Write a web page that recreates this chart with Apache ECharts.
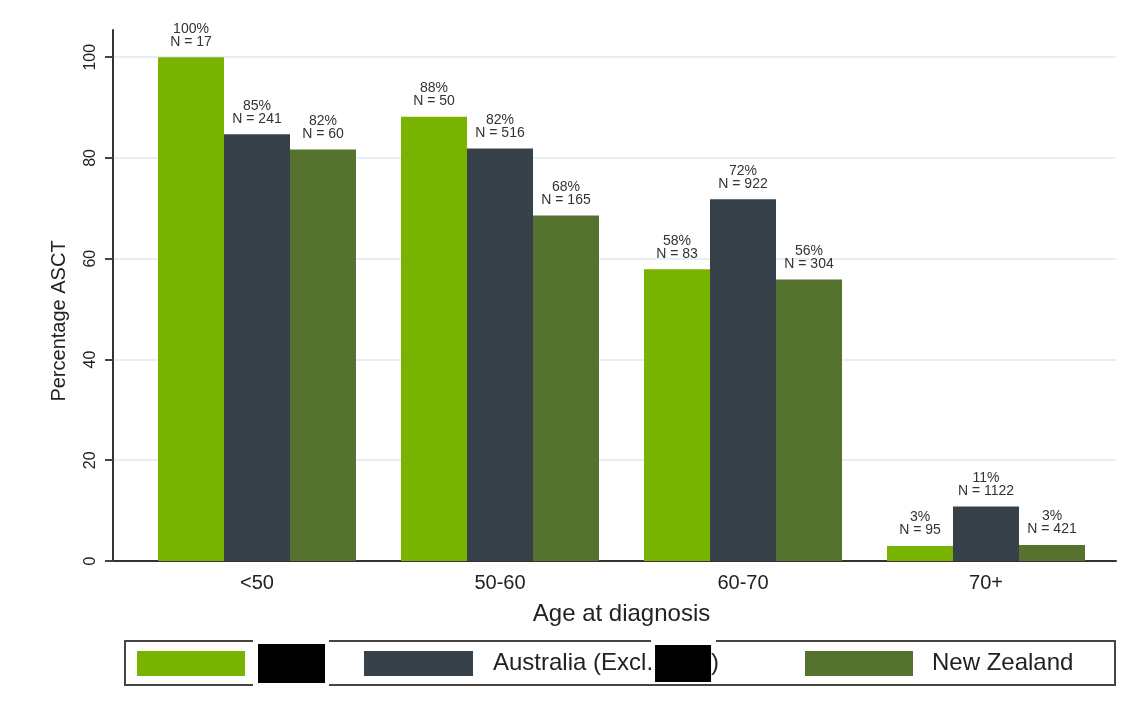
<!DOCTYPE html>
<html>
<head>
<meta charset="utf-8">
<script src="https://cdn.jsdelivr.net/npm/echarts@6/dist/echarts.min.js"></script>
<style>
  html, body { margin: 0; padding: 0; background: #fff; }
  #chart { width: 1145px; height: 715px; }
</style>
</head>
<body>
<div id="chart"></div>
<script>
// age groups on the x axis
const ageGroups = ["<50", "50-60", "60-70", "70+"];
const yTicks = [0, 20, 40, 60, 80, 100];

// redacted name (shown as a black box in the legend)
const redacted = "███";
const seriesNames = [redacted, "Australia (Excl. " + redacted + ")", "New Zealand"];

// bar heights, percentage ASCT
const pctSite = [100, 88.2, 57.9, 3.0];
const pctAus = [84.7, 81.9, 71.8, 10.8];
const pctNZ = [81.7, 68.6, 55.9, 3.2];

// printed labels above bars
const labSite = ["100%", "88%", "58%", "3%"];
const labAus = ["85%", "82%", "72%", "11%"];
const labNZ = ["82%", "68%", "56%", "3%"];
const nSite = [17, 50, 83, 95];
const nAus = [241, 516, 922, 1122];
const nNZ = [60, 165, 304, 421];

const colors = ["#78b300", "#37414a", "#55722e"];
const font = "'Liberation Sans', Arial, sans-serif";
const yMax = 105.4;

function barSeries(idx, values, labs, ns) {
  return {
    name: seriesNames[idx],
    type: "bar",
    xAxisIndex: 1,
    yAxisIndex: 1,
    data: values,
    barWidth: 66,
    barGap: "0%",
    itemStyle: { color: colors[idx] },
    label: {
      show: true,
      position: "top",
      distance: 9,
      fontFamily: font,
      fontSize: 14,
      lineHeight: 13,
      color: "#333",
      formatter: (p) => labs[p.dataIndex] + "\nN = " + ns[p.dataIndex],
    },
  };
}

function legendText(name) {
  if (name === redacted) return "{sp|}{box|}";
  if (name.indexOf(redacted) >= 0) return "{sp|}" + name.replace(" " + redacted, "{gap|}{box|}");
  return "{sp|}" + name;
}

const chart = echarts.init(document.getElementById("chart"));
chart.setOption({
  animation: false,
  textStyle: { fontFamily: font },
  grid: [
    // frame: axis lines, ticks and gridlines
    { left: 113, right: 29, top: 30, bottom: 154 },
    // bars
    { left: 135.5, width: 972, top: 30, bottom: 154 },
  ],
  xAxis: [
    {
      type: "value",
      gridIndex: 0,
      min: 0,
      max: 1,
      axisLine: { show: true, lineStyle: { color: "#333", width: 2 } },
      axisTick: { show: false },
      axisLabel: { show: false },
      splitLine: { show: false },
    },
    {
      type: "category",
      gridIndex: 1,
      data: ageGroups,
      axisLine: { show: false },
      axisTick: { show: false },
      axisLabel: { fontSize: 20, color: "#222", margin: 12, fontFamily: font },
      name: "Age at diagnosis",
      nameLocation: "middle",
      nameGap: 41,
      nameTextStyle: { fontSize: 24, color: "#222", fontFamily: font },
    },
  ],
  yAxis: [
    {
      type: "value",
      gridIndex: 0,
      min: 0,
      max: yMax,
      axisLine: { show: true, lineStyle: { color: "#333", width: 2 } },
      axisTick: { show: true, length: 8, customValues: yTicks, lineStyle: { color: "#444", width: 2 } },
      axisLabel: { rotate: 90, fontSize: 16, color: "#222", margin: 14, customValues: yTicks, fontFamily: font },
      splitLine: { show: true, lineStyle: { color: "#e6eff1", width: 2 } },
      name: "Percentage ASCT",
      nameLocation: "middle",
      nameGap: 44,
      nameTextStyle: { fontSize: 20, color: "#222", fontFamily: font, padding: [0, 51, 0, 0] },
    },
    {
      type: "value",
      gridIndex: 1,
      min: 0,
      max: yMax,
      show: false,
    },
  ],
  graphic: [
    {
      type: "rect",
      z: 1,
      shape: { x: 125, y: 641, width: 990, height: 44 },
      style: { fill: "#fff", stroke: "#444", lineWidth: 2 },
    },
    { type: "rect", z: 2, shape: { x: 253, y: 637, width: 76, height: 52 }, style: { fill: "#fff" } },
    { type: "rect", z: 2, shape: { x: 651, y: 637, width: 65, height: 46 }, style: { fill: "#fff" } },
  ],
  legend: [
    {
      data: [seriesNames[0]],
      left: 137,
      top: 644,
      padding: 0,
      icon: "rect",
      itemWidth: 108,
      itemHeight: 25,
      formatter: legendText,
      textStyle: {
        fontSize: 24,
        color: "#222",
        rich: {
          sp: { width: 8 },
          box: { width: 67, height: 39, backgroundColor: "#000" },
        },
      },
    },
    {
      data: [seriesNames[1]],
      left: 364,
      top: 645,
      padding: 0,
      icon: "rect",
      itemWidth: 109,
      itemHeight: 25,
      formatter: legendText,
      textStyle: {
        fontSize: 24,
        color: "#222",
        rich: {
          sp: { width: 15 },
          gap: { width: 2 },
          box: { width: 56, height: 37, backgroundColor: "#000" },
        },
      },
    },
    {
      data: [seriesNames[2]],
      left: 805,
      top: 651,
      padding: 0,
      icon: "rect",
      itemWidth: 108,
      itemHeight: 25,
      formatter: legendText,
      textStyle: {
        fontSize: 24,
        color: "#222",
        rich: { sp: { width: 14 } },
      },
    },
  ],
  series: [
    barSeries(0, pctSite, labSite, nSite),
    barSeries(1, pctAus, labAus, nAus),
    barSeries(2, pctNZ, labNZ, nNZ),
  ],
});
</script>
</body>
</html>
